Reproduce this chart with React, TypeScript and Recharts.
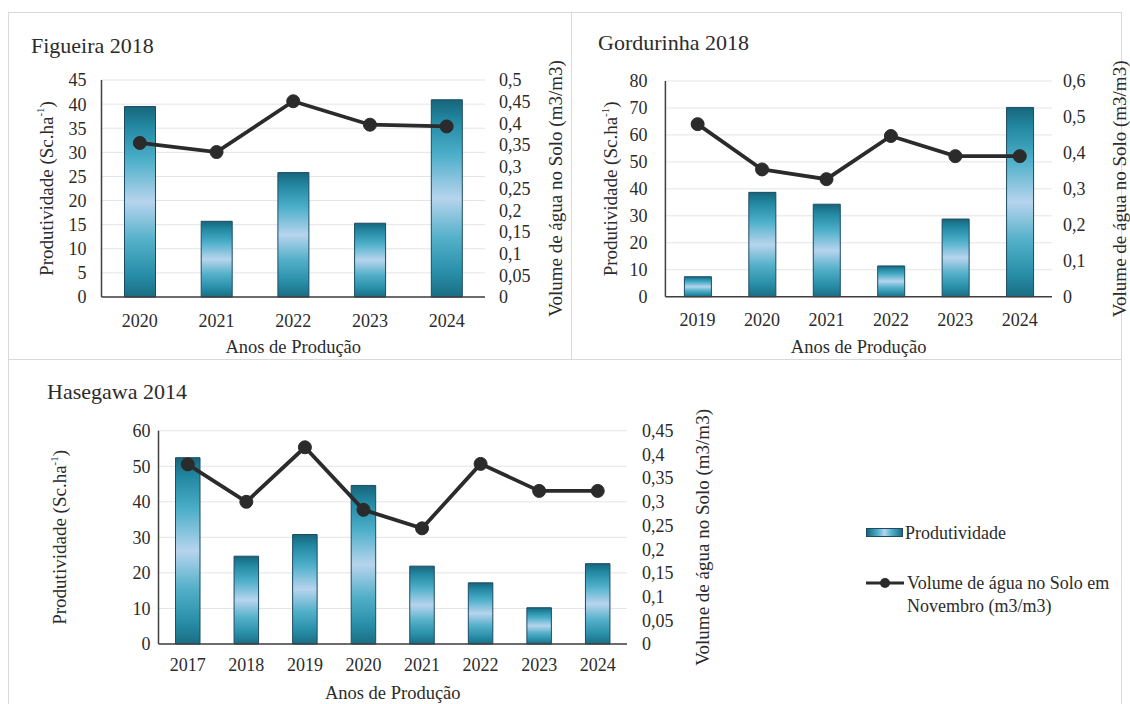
import { ComposedChart, Bar, Line, XAxis, YAxis, CartesianGrid } from 'recharts'
import type { ReactNode } from 'react'

const FONT = '"Liberation Serif", "Times New Roman", serif'
const INK = '#2b2b2b'
const GRID = '#e4e4e4'
const AXIS = '#3f3f3f'
const FRAME = '#d9d9d9'

// Figueira 2018
const figYears = ['2020', '2021', '2022', '2023', '2024']
const figProd = [39.5, 15.7, 25.8, 15.3, 40.9]
const figVol = [0.355, 0.334, 0.451, 0.397, 0.393]
const figLeftTicks = [0, 5, 10, 15, 20, 25, 30, 35, 40, 45]
const figRightTicks = [0, 0.05, 0.1, 0.15, 0.2, 0.25, 0.3, 0.35, 0.4, 0.45, 0.5]

// Gordurinha 2018
const gorYears = ['2019', '2020', '2021', '2022', '2023', '2024']
const gorProd = [7.4, 38.7, 34.3, 11.4, 28.8, 70.2]
const gorVol = [0.48, 0.354, 0.327, 0.447, 0.391, 0.391]
const gorLeftTicks = [0, 10, 20, 30, 40, 50, 60, 70, 80]
const gorRightTicks = [0, 0.1, 0.2, 0.3, 0.4, 0.5, 0.6]

// Hasegawa 2014
const hasYears = ['2017', '2018', '2019', '2020', '2021', '2022', '2023', '2024']
const hasProd = [52.4, 24.7, 30.8, 44.6, 21.9, 17.2, 10.2, 22.6]
const hasVol = [0.379, 0.3, 0.415, 0.283, 0.244, 0.38, 0.323, 0.323]
const hasLeftTicks = [0, 10, 20, 30, 40, 50, 60]
const hasRightTicks = [0, 0.05, 0.1, 0.15, 0.2, 0.25, 0.3, 0.35, 0.4, 0.45]

const PROD_TITLE = (
  <>
    Produtividade (Sc.ha<tspan baselineShift="super" fontSize={11}>-1</tspan>)
  </>
)
const VOL_TITLE = 'Volume de água no Solo (m3/m3)'
const X_TITLE = 'Anos de Produção'

const comma = (v: number) => String(v).replace('.', ',')

function vTitle(text: ReactNode, dx: number) {
  return ({ viewBox }: any) => {
    const cx = viewBox.x + dx
    const cy = viewBox.y + viewBox.height / 2
    return (
      <text x={cx} y={cy} transform={`rotate(-90 ${cx} ${cy})`} textAnchor="middle" dominantBaseline="central"
        fontFamily={FONT} fontSize={19} fill={INK}>{text}</text>
    )
  }
}

function hTitle(text: string, dy: number) {
  return ({ viewBox }: any) => (
    <text x={viewBox.x + viewBox.width / 2} y={viewBox.y + dy} textAnchor="middle" dominantBaseline="central"
      fontFamily={FONT} fontSize={18.5} fill={INK}>{text}</text>
  )
}

type PanelProps = {
  id: string
  title: string
  years: string[]
  prod: number[]
  vol: number[]
  leftTicks: number[]
  rightTicks: number[]
  box: { left: number; top: number; width: number; height: number }
  margin: { top: number; right: number; bottom: number; left: number }
  leftW: number
  rightW: number
  barSize: number
  leftDx: number
  rightDx: number
  xTitleDy: number
  leftTm: number
  rightTm: number
  xTm: number
  titlePos: [number, number]
}

function Panel(p: PanelProps) {
  const data = p.years.map((y, i) => ({ year: y, prod: p.prod[i], vol: p.vol[i] }))
  const tick = { fontSize: 18, fill: INK, fontFamily: FONT }
  return (
    <div style={{ position: 'absolute', left: p.box.left, top: p.box.top }}>
      <div style={{ position: 'absolute', left: p.titlePos[0], top: p.titlePos[1] - 11, fontSize: 22, lineHeight: '22px', color: INK, fontFamily: FONT, whiteSpace: 'nowrap' }}>
        {p.title}
      </div>
      <ComposedChart width={p.box.width} height={p.box.height} data={data} margin={p.margin}>
        <defs>
          <linearGradient id={p.id} x1="0" y1="0" x2="0" y2="1">
            <stop offset="0%" stopColor="#17657a" />
            <stop offset="10%" stopColor="#2287a1" />
            <stop offset="28%" stopColor="#4dafc9" />
            <stop offset="50%" stopColor="#b7d4ee" />
            <stop offset="70%" stopColor="#54b0c9" />
            <stop offset="88%" stopColor="#288ea8" />
            <stop offset="100%" stopColor="#1a6d82" />
          </linearGradient>
        </defs>
        <CartesianGrid yAxisId="l" vertical={false} stroke={GRID} />
        <XAxis dataKey="year" interval={0} tickLine={false} axisLine={{ stroke: AXIS, strokeWidth: 1.5 }}
          tick={tick} tickMargin={p.xTm} height={50} label={hTitle(X_TITLE, p.xTitleDy)} />
        <YAxis yAxisId="l" domain={[0, p.leftTicks[p.leftTicks.length - 1]]} ticks={p.leftTicks} interval={0}
          tickLine={false} axisLine={{ stroke: AXIS, strokeWidth: 1.5 }} tick={tick} tickMargin={p.leftTm}
          width={p.leftW} label={vTitle(PROD_TITLE, p.leftDx)} />
        <YAxis yAxisId="r" orientation="right" domain={[0, p.rightTicks[p.rightTicks.length - 1]]} ticks={p.rightTicks}
          interval={0} tickLine={false} axisLine={false} tick={tick} tickMargin={p.rightTm} width={p.rightW}
          tickFormatter={comma} label={vTitle(VOL_TITLE, p.rightDx)} />
        <Bar yAxisId="l" dataKey="prod" barSize={p.barSize} fill={`url(#${p.id})`} stroke="#1d4a66" strokeWidth={1}
          isAnimationActive={false} />
        <Line yAxisId="r" dataKey="vol" type="linear" stroke={INK} strokeWidth={3.8}
          dot={{ r: 6.5, fill: INK, stroke: INK, strokeWidth: 1 }} isAnimationActive={false} />
      </ComposedChart>
    </div>
  )
}

export default function App() {
  return (
    <div style={{ position: 'absolute', left: 0, top: 0, width: 1130, height: 704, background: '#fff', overflow: 'hidden', fontFamily: FONT }}>
      <div style={{ position: 'absolute', left: 8, top: 12, width: 564, height: 348, border: `1px solid ${FRAME}`, boxSizing: 'border-box' }} />
      <div style={{ position: 'absolute', left: 571, top: 12, width: 551, height: 348, border: `1px solid ${FRAME}`, boxSizing: 'border-box' }} />
      <div style={{ position: 'absolute', left: 8, top: 359, width: 1114, height: 360, border: `1px solid ${FRAME}`, boxSizing: 'border-box' }} />

      <Panel id="gFig" title="Figueira 2018" years={figYears} prod={figProd} vol={figVol}
        leftTicks={figLeftTicks} rightTicks={figRightTicks}
        box={{ left: 8, top: 12, width: 564, height: 348 }}
        margin={{ top: 68, right: 27, bottom: 13, left: 33.5 }} leftW={60} rightW={60} barSize={31}
        leftDx={4.5} rightDx={70} xTitleDy={50} leftTm={9} rightTm={8} xTm={11} titlePos={[23, 34]} />

      <Panel id="gGor" title="Gordurinha 2018" years={gorYears} prod={gorProd} vol={gorVol}
        leftTicks={gorLeftTicks} rightTicks={gorRightTicks}
        box={{ left: 572, top: 12, width: 558, height: 348 }}
        margin={{ top: 69, right: 18, bottom: 13.3, left: 33.4 }} leftW={60} rightW={60} barSize={27}
        leftDx={5.6} rightDx={68} xTitleDy={50} leftTm={12} rightTm={5} xTm={11} titlePos={[26, 31]} />

      <Panel id="gHas" title="Hasegawa 2014" years={hasYears} prod={hasProd} vol={hasVol}
        leftTicks={hasLeftTicks} rightTicks={hasRightTicks}
        box={{ left: 8, top: 360, width: 720, height: 344 }}
        margin={{ top: 70.7, right: 41, bottom: 10, left: 40.5 }} leftW={110} rightW={60} barSize={24.5}
        leftDx={11.5} rightDx={76} xTitleDy={49} leftTm={2} rightTm={9} xTm={8.5} titlePos={[39, 32]} />

      <div style={{ position: 'absolute', left: 866, top: 528, width: 37, height: 9, border: '1px solid #1d4a66', boxSizing: 'border-box',
        background: 'linear-gradient(to right, #17657a, #4dafc9 30%, #b7d4ee 50%, #54b0c9 70%, #1a6d82)' }} />
      <div style={{ position: 'absolute', left: 905, top: 522, fontSize: 18, lineHeight: '22px', color: INK, whiteSpace: 'nowrap' }}>Produtividade</div>
      <svg style={{ position: 'absolute', left: 866, top: 575 }} width={38} height={16}>
        <line x1={0} y1={8} x2={38} y2={8} stroke={INK} strokeWidth={3} />
        <circle cx={19} cy={8} r={5} fill={INK} />
      </svg>
      <div style={{ position: 'absolute', left: 907, top: 571.5, fontSize: 18, lineHeight: '23px', color: INK, whiteSpace: 'nowrap' }}>
        Volume de água no Solo em<br />Novembro (m3/m3)
      </div>
    </div>
  )
}
